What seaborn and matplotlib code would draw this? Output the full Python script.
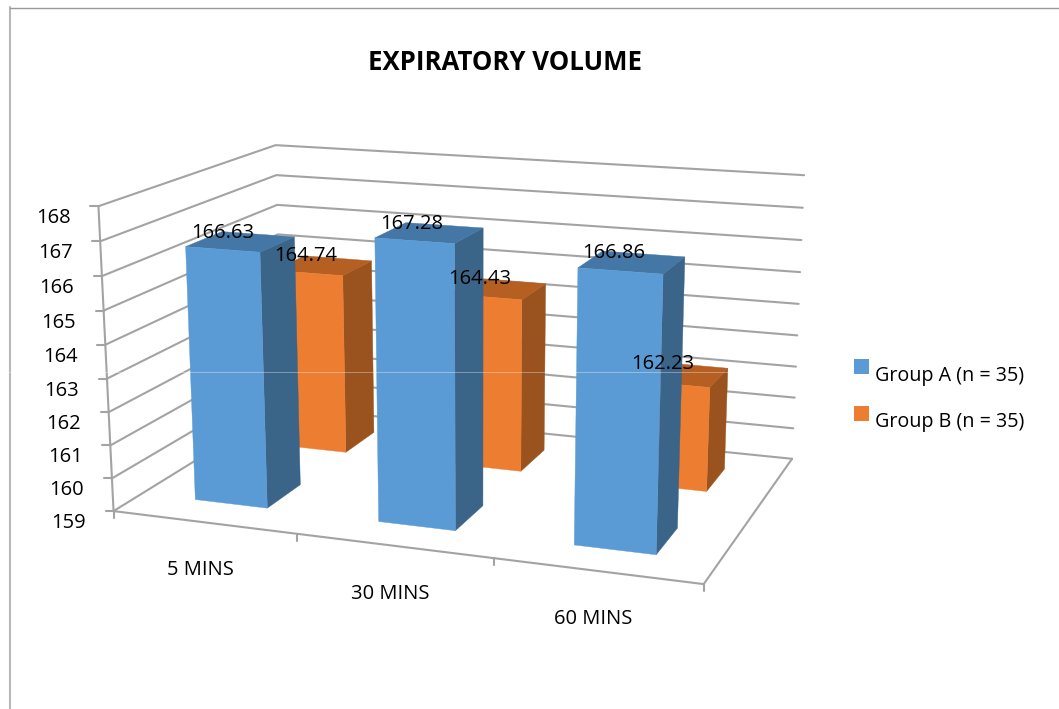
import numpy as np
import pandas as pd
import seaborn as sns
import matplotlib
matplotlib.use("Agg")
import matplotlib.pyplot as plt
from matplotlib.patches import Patch, Rectangle
from matplotlib.legend_handler import HandlerPatch

# ---- data ----
categories = ["5 MINS", "30 MINS", "60 MINS"]
group_a = [166.63, 167.28, 166.86]
group_b = [164.74, 164.43, 162.23]
series_names = ["Group A (n = 35)", "Group B (n = 35)"]
value_ticks = [159, 160, 161, 162, 163, 164, 165, 166, 167, 168]
title = "EXPIRATORY VOLUME"

# ---- styling ----
W, H = 1059, 709
sns.set_theme(style="white")
plt.rcParams["font.family"] = ["Open Sans", "DejaVu Sans"]
FS = 14.5
GRID = "#a3a3a3"
faces_a = {"front": "#5B9BD5", "side": "#3A6488", "top": "#4476A6"}
faces_b = {"front": "#ED7D31", "side": "#9A531E", "top": "#B55F22"}
palette = sns.color_palette([faces_a["front"], faces_b["front"]])

# ---- projection: scene (category position, depth, 0-1 height) -> figure pixels ----
anchors = [
    ((0, 0, 0), (113, 510)), ((1, 0, 0), (297, 535)), ((2, 0, 0), (493, 559)),
    ((3, 0, 0), (704, 584)), ((0, 1, 0), (285, 407)), ((3, 1, 0), (792, 459)),
    ((0, 0, 1), (99, 206)), ((0, 1, 1), (273, 145)), ((3, 1, 1), (804, 175)),
    ((0.3, 0.15, 0), (194, 499)), ((0.7, 0.15, 0), (267, 508)),
    ((0.3, 0.15, 0.848), (186, 247)), ((0.7, 0.15, 0.848), (261, 253)),
    ((1.3, 0.15, 0.92), (376, 238)), ((1.7, 0.15, 0.92), (455, 243)),
    ((2.3, 0.15, 0.873), (578, 268)), ((2.7, 0.15, 0.873), (663, 274)),
    ((2.3, 0.15, 0), (574, 545)), ((2.7, 0.15, 0), (656, 554)),
]
rows, rhs = [], []
for (a, b, c), (u, v) in anchors:
    rows.append([a, b, c, 1, 0, 0, 0, 0, -u * a, -u * b, -u * c]); rhs.append(u)
    rows.append([0, 0, 0, 0, a, b, c, 1, -v * a, -v * b, -v * c]); rhs.append(v)
coef = np.linalg.lstsq(np.array(rows, float), np.array(rhs, float), rcond=None)[0]
P = np.append(coef, 1.0).reshape(3, 4)


def project(cat, depth, value):
    z = (value - value_ticks[0]) / (value_ticks[-1] - value_ticks[0])
    q = P @ np.array([cat, depth, z, 1.0])
    return q[0] / q[2], q[1] / q[2]


fig = plt.figure(figsize=(W / 100, H / 100), dpi=100, facecolor="white")
ax = fig.add_axes([0, 0, 1, 1])
ax.set_xlim(0, W)
ax.set_ylim(H, 0)
ax.axis("off")

# ---- frame of the picture ----
ax.plot([10, 10], [7, H], color="#b8b8b8", lw=1.5, zorder=1, clip_on=False)
ax.plot([10, W], [7.5, 7.5], color="#9a9a9a", lw=1.0, zorder=1)

# ---- walls and floor as polylines, drawn by seaborn ----
lines = []
vmin, vmax = value_ticks[0], value_ticks[-1]
n_cat = len(categories)


def add_line(name, pts):
    for order, (u, v) in enumerate(pts):
        lines.append({"line": name, "order": order, "u": u, "v": v})


for val in value_ticks:
    a = project(0, 0, val)
    add_line(f"wall{val}", [a, project(0, 1, val), project(n_cat, 1, val)])
    add_line(f"ytick{val}", [a, (a[0] - 8, a[1])])
add_line("yaxis", [project(0, 0, vmin), project(0, 0, vmax)])
add_line("floor", [project(0, 0, vmin), project(n_cat, 0, vmin), project(n_cat, 1, vmin)])
for i in range(n_cat + 1):
    a = project(i, 0, vmin)
    add_line(f"xtick{i}", [a, (a[0], a[1] + 7)])
grid = pd.DataFrame(lines)
sns.lineplot(data=grid, x="u", y="v", units="line", estimator=None, sort=False,
             color=GRID, lw=1.5, legend=False, ax=ax, zorder=2)
ax.set_xlim(0, W)
ax.set_ylim(H, 0)


# ---- bars ----
def draw_bar(cat_i, d0, d1, value, faces, z):
    x0, x1 = cat_i + 0.3, cat_i + 0.7
    front = [project(x0, d0, vmin), project(x1, d0, vmin), project(x1, d0, value), project(x0, d0, value)]
    side = [project(x1, d0, vmin), project(x1, d1, vmin), project(x1, d1, value), project(x1, d0, value)]
    top = [project(x0, d0, value), project(x1, d0, value), project(x1, d1, value), project(x0, d1, value)]
    for pts, key in ((side, "side"), (top, "top"), (front, "front")):
        ax.fill(*zip(*pts), color=faces[key], lw=0.3, zorder=z)


for i, val in enumerate(group_b):
    draw_bar(i, 0.65, 0.85, val, faces_b, 3 + i * 0.1)
for i, val in enumerate(group_a):
    draw_bar(i, 0.15, 0.35, val, faces_a, 4 + i * 0.1)

# ---- faint scan line across the picture ----
ax.plot([0, W], [371.5, 371.5], color="white", lw=0.7, alpha=0.35, zorder=5)

# ---- data labels ----
for i, val in enumerate(group_b):
    u, v = project(i + 0.5, 0.75, val)
    ax.text(u - 18, v - 10, f"{val:.2f}", ha="center", va="center", fontsize=FS, color="black", zorder=6)
for i, val in enumerate(group_a):
    u, v = project(i + 0.5, 0.25, val)
    ax.text(u - 18, v - 9, f"{val:.2f}", ha="center", va="center", fontsize=FS, color="black", zorder=6)

# ---- axis labels ----
for val in value_ticks:
    u, v = project(0, 0, val)
    ax.text(u - 45, v + 12, str(val), ha="center", va="center", fontsize=FS, color="black")
for i, name in enumerate(categories):
    u, v = project(i + 0.5, 0, vmin)
    ax.text(u - 4, v + 48, name, ha="center", va="center", fontsize=FS, color="black")

# ---- title and legend ----
ax.text(505, 62, title, ha="center", va="center", fontsize=18.5, fontweight="bold", color="black")


def raised_square(legend, orig_handle, xdescent, ydescent, width, height, fontsize):
    return Rectangle((-xdescent, -ydescent + 5), width, height)


handles = [Patch(facecolor=c, edgecolor="none", label=n) for c, n in zip(palette, series_names)]
ax.legend(handles=handles, loc="center left", bbox_to_anchor=(848 / W, 1 - 399 / H),
          bbox_transform=fig.transFigure, frameon=False, fontsize=FS - 0.25, labelcolor="black",
          handlelength=0.76, handleheight=0.76, handletextpad=0.3, labelspacing=1.35,
          borderpad=0.3, borderaxespad=0,
          handler_map={Patch: HandlerPatch(patch_func=raised_square)})

fig.savefig("out.png", dpi=100, facecolor="white")
